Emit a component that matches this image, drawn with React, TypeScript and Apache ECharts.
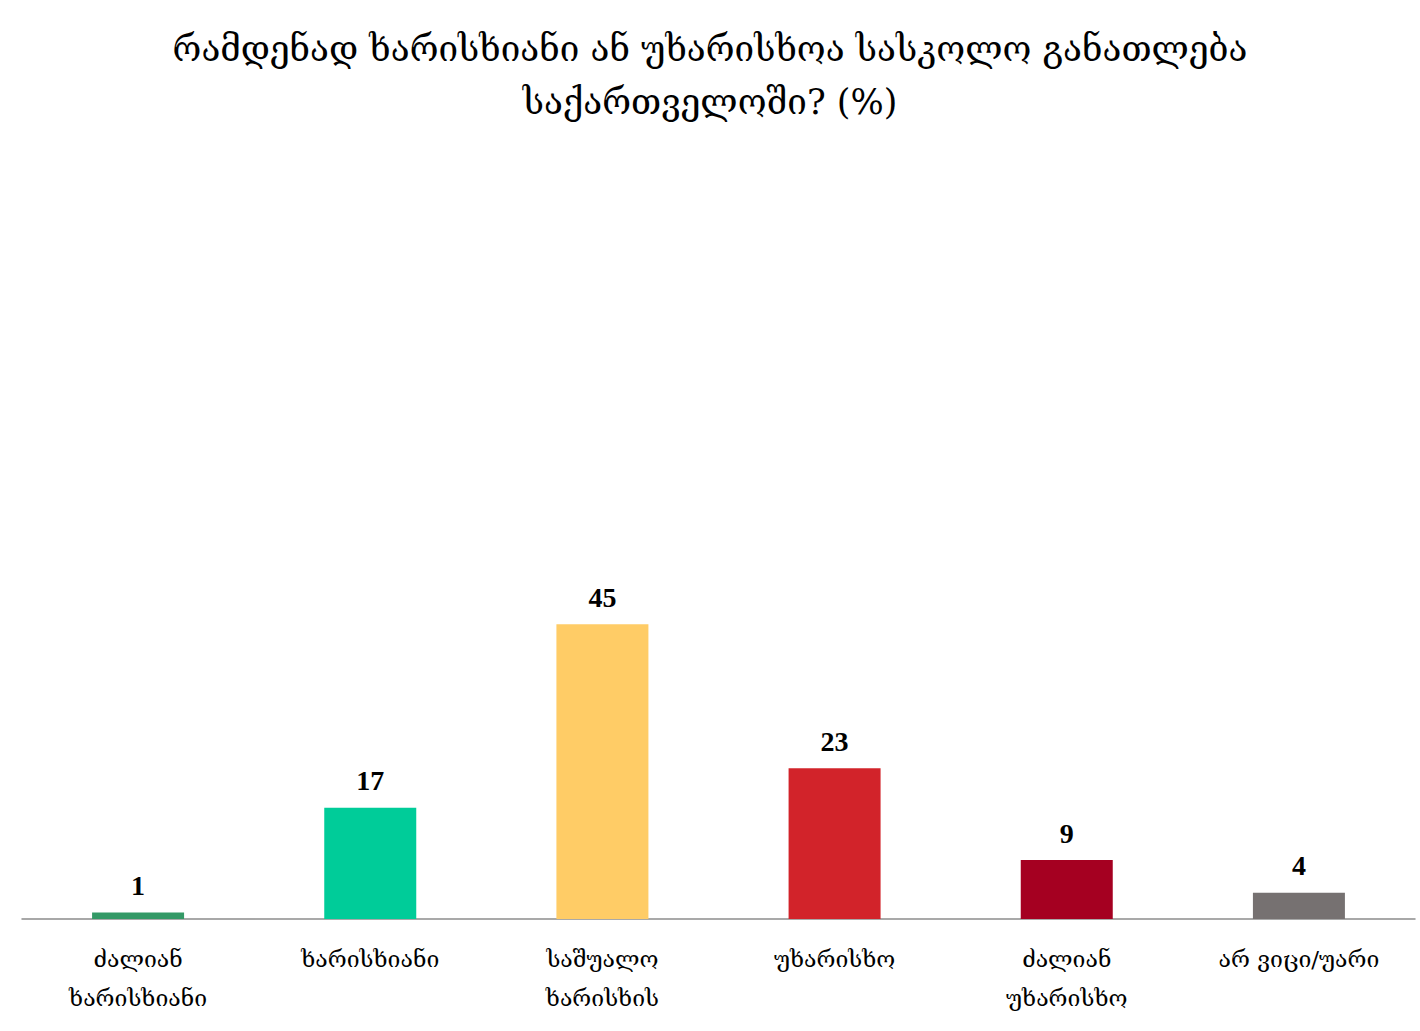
import React, { useEffect, useRef } from "react";
import * as echarts from "echarts";

const titleText = "რამდენად ხარისხიანი ან უხარისხოა სასკოლო განათლება\nსაქართველოში? (%)";
const categories = [
  "ძალიან\nხარისხიანი",
  "ხარისხიანი",
  "საშუალო\nხარისხის",
  "უხარისხო",
  "ძალიან\nუხარისხო",
  "არ ვიცი/უარი",
];
const values = [1, 17, 45, 23, 9, 4];
const colors = ["#339966", "#00CC99", "#FFCC66", "#D2232A", "#A50021", "#767171"];

export default function App() {
  const ref = useRef<HTMLDivElement>(null);
  useEffect(() => {
    document.body.style.margin = "0";
    if (!ref.current) return;
    const chart = echarts.init(ref.current, undefined, { renderer: "svg" });
    chart.setOption({
      animation: false,
      backgroundColor: "#ffffff",
      title: {
        text: titleText,
        left: "center",
        top: 17,
        textStyle: {
          fontFamily: "DejaVu Serif",
          fontSize: 35,
          fontWeight: "normal",
          color: "#000000",
          lineHeight: 53,
        },
      },
      grid: { left: 22, right: 5, top: 264, bottom: 112 },
      xAxis: {
        type: "category",
        data: categories,
        axisLine: { show: true, lineStyle: { color: "#8c8c8c", width: 1.5 } },
        axisTick: { show: false },
        axisLabel: {
          interval: 0,
          margin: 20,
          fontFamily: "DejaVu Serif",
          fontSize: 23,
          lineHeight: 39,
          color: "#000000",
        },
      },
      yAxis: {
        type: "value",
        min: 0,
        max: 100,
        show: false,
        splitLine: { show: false },
      },
      series: [
        {
          type: "bar",
          barWidth: 92,
          data: values.map((v, i) => ({ value: v, itemStyle: { color: colors[i] } })),
          label: {
            show: true,
            position: "top",
            distance: 13,
            fontFamily: "Liberation Serif",
            fontWeight: "bold",
            fontSize: 28,
            color: "#000000",
          },
        },
      ],
    });
    return () => chart.dispose();
  }, []);
  return <div ref={ref} style={{ width: 1420, height: 1031 }} />;
}
